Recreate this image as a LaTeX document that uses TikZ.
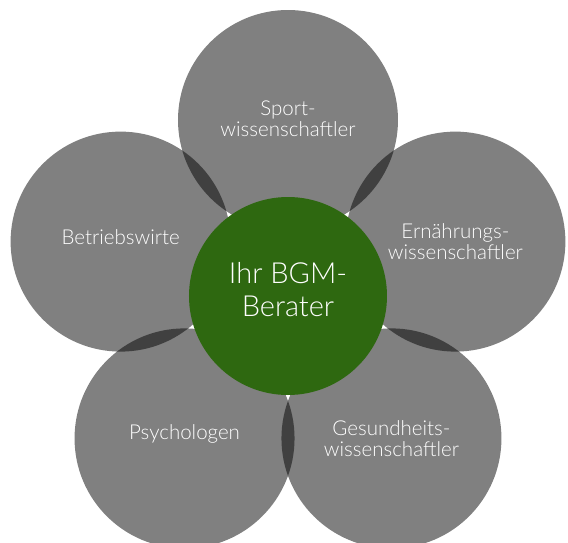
\documentclass[tikz,border=0pt]{standalone}
\usepackage{fontspec}
\setmainfont{Lato Light}
\definecolor{petalgray}{RGB}{128,128,128}
\definecolor{lensgray}{RGB}{64,64,64}
\definecolor{bgmgreen}{RGB}{46,104,16}
\begin{document}
\begin{tikzpicture}
[x=1pt,y=1pt,
  petal/.style={shape=circle,inner sep=0pt,minimum size=220pt,fill=petalgray},%
  petaltext/.style={text=white,align=center,inner sep=0pt,
    font=\fontsize{20.5}{21}\selectfont},%
  hub/.style={shape=circle,inner sep=0pt,minimum size=198pt,fill=bgmgreen},%
  hubtext/.style={text=white,align=center,inner sep=0pt,
    font=\fontsize{29}{33}\selectfont}]
\useasboundingbox (-288,-246) rectangle (280,296);
%% outer circles
\foreach \nodename/\angle/\lift/\label in {sport/90/1/Sport-\\wissenschaftler,
  ernaehrung/18/0/Ern\"ahrungs-\\wissenschaftler,
  gesundheit/-54/0/Gesundheits-\\wissenschaftler,
  psycho/-126/4/Psychologen, betrieb/162/4/Betriebswirte} {
  \node (\nodename) at (\angle:176) [petal] {};
  \node (\nodename-text) at ([yshift=\lift pt]\nodename.center) [petaltext] {\label};
}
%% overlaps of neighbouring circles
\foreach \firstnode/\secondnode in {sport/ernaehrung, ernaehrung/gesundheit,
  gesundheit/psycho, psycho/betrieb, betrieb/sport} {
  \begin{scope}
    \clip (\firstnode.center) circle (110);
    \fill[lensgray] (\secondnode.center) circle (110);
  \end{scope}
}
%% centre
\node (berater) at (0,0) [hub] {};
\node (berater-text) at ([yshift=6pt]berater.center) [hubtext] {Ihr BGM-\\Berater};
\end{tikzpicture}
\end{document}
